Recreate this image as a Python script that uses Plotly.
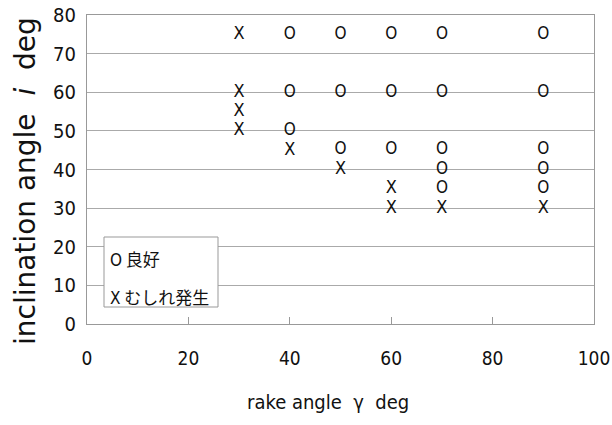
import plotly.graph_objects as go

good_x = [40, 40, 40, 50, 50, 50, 60, 60, 60, 70, 70, 70, 70, 70, 90, 90, 90, 90, 90]
good_y = [75, 60, 50, 75, 60, 45, 75, 60, 45, 75, 60, 45, 40, 35, 75, 60, 45, 40, 35]
bad_x = [30, 30, 30, 30, 40, 50, 60, 60, 70, 90]
bad_y = [75, 60, 55, 50, 45, 40, 35, 30, 30, 30]
legend_labels = ["良好", "むしれ発生"]
x_ticks = [0, 20, 40, 60, 80, 100]
y_ticks = [0, 10, 20, 30, 40, 50, 60, 70, 80]

narrow = "DejaVu Sans Condensed, DejaVu Sans"
L, R, T, B = 87, 594, 15, 324
W, H = R - L, B - T

fig = go.Figure()
fig.add_trace(go.Scatter(x=good_x, y=good_y, mode="text", text=["O"] * len(good_x),
                         textfont=dict(family=narrow, size=17, color="#111"),
                         textposition="middle center", showlegend=False, cliponaxis=False))
fig.add_trace(go.Scatter(x=bad_x, y=bad_y, mode="text", text=["X"] * len(bad_x),
                         textfont=dict(family=narrow, size=18, color="#111"),
                         textposition="middle center", showlegend=False, cliponaxis=False))

# legend box
fig.add_shape(type="rect", xref="paper", yref="paper", layer="above",
              x0=(104 - L) / W, x1=(218 - L) / W, y0=(B - 307) / H, y1=(B - 237) / H,
              line=dict(color="#999", width=1), fillcolor="white")
for i, (sym, lab) in enumerate(zip(["O", "X"], legend_labels)):
    fig.add_annotation(xref="paper", yref="paper", x=(108 - L) / W, y=(B - [258, 296][i]) / H,
                       xanchor="left", yanchor="middle", align="left", showarrow=False,
                       text=f"<span style='font-family:DejaVu Sans Condensed'>{sym}</span> {lab}",
                       font=dict(family="Noto Sans CJK JP", size=17, color="#111"))

# axis titles
fig.add_annotation(xref="paper", yref="paper", x=(25 - L) / W, y=(B - 181) / H,
                   xanchor="center", yanchor="middle", textangle=-90, showarrow=False,
                   text="inclination angle  <i>i</i>  deg",
                   font=dict(family="DejaVu Sans", size=28, color="#111"))
fig.add_annotation(xref="paper", yref="paper", x=(328 - L) / W, y=(B - 402) / H,
                   xanchor="center", yanchor="middle", showarrow=False,
                   text="rake angle  γ  deg",
                   font=dict(family=narrow, size=20, color="#111"))

fig.update_layout(
    width=612, height=425, margin=dict(l=L, r=612 - R, t=T, b=425 - B, autoexpand=False),
    paper_bgcolor="white", plot_bgcolor="white", showlegend=False,
)
fig.update_xaxes(range=[0, 100], tickvals=x_ticks, showgrid=False, zeroline=False,
                 showline=True, linecolor="#999", linewidth=1, mirror=True, automargin=False,
                 ticks="inside", ticklen=7, tickcolor="#999", ticklabeloverflow="allow",
                 tickfont=dict(family=narrow, size=19, color="#111"), ticklabelstandoff=17)
fig.update_yaxes(range=[0, 80], tickvals=y_ticks, showgrid=True, gridcolor="#aaa", gridwidth=1,
                 zeroline=False, showline=True, linecolor="#999", linewidth=1, mirror=True, automargin=False,
                 ticks="", tickfont=dict(family=narrow, size=20, color="#111"), ticklabelstandoff=6)
fig.write_html("out.html", post_script="document.body.style.margin='0';",
               config={"displayModeBar": False})
